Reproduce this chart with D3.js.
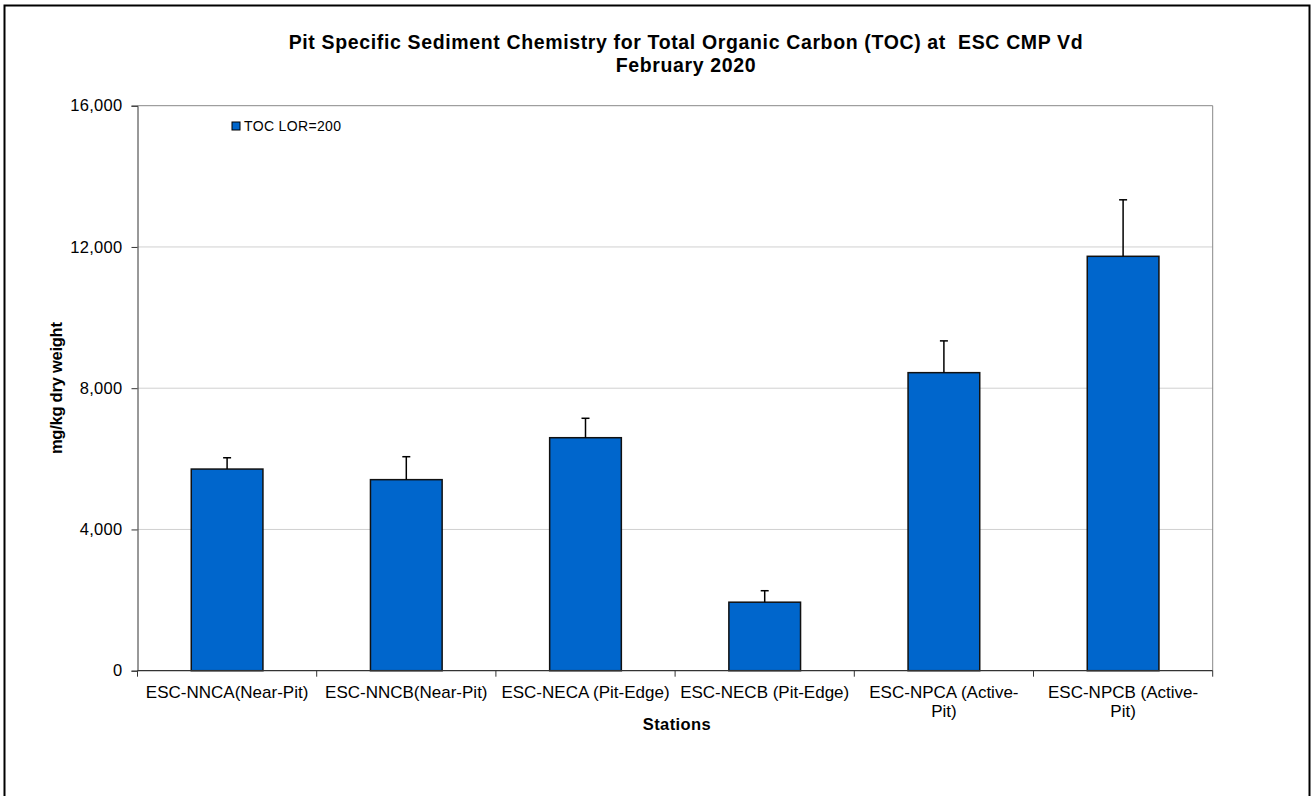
<!DOCTYPE html>
<html><head><meta charset="utf-8">
<script src="https://cdn.jsdelivr.net/npm/d3@7"></script>
<style>body{margin:0;background:#fff;} svg{display:block;font-family:"Liberation Sans",Arial,sans-serif;}</style>
</head><body>
<svg id="c" width="1314" height="796"></svg>
<script>
const categories = ["ESC-NNCA(Near-Pit)", "ESC-NNCB(Near-Pit)", "ESC-NECA (Pit-Edge)", "ESC-NECB (Pit-Edge)", "ESC-NPCA (Active-Pit)", "ESC-NPCB (Active-Pit)"];
const categoryLines = [["ESC-NNCA(Near-Pit)"], ["ESC-NNCB(Near-Pit)"], ["ESC-NECA (Pit-Edge)"], ["ESC-NECB (Pit-Edge)"], ["ESC-NPCA (Active-", "Pit)"], ["ESC-NPCB (Active-", "Pit)"]];
const tocValues = [5710, 5410, 6598, 1940, 8440, 11735];
const tocErrors = [320, 650, 550, 325, 900, 1600];
const yTicks = [0, 4000, 8000, 12000, 16000];
const seriesName = "TOC LOR=200";
const titleLines = ["Pit Specific Sediment Chemistry for Total Organic Carbon (TOC) at\u00a0 ESC CMP Vd", "February 2020"];

const FF = "Liberation Sans, Arial, sans-serif";
const svg = d3.select("#c");
function spread(sel, target){
  const n = sel.text().length;
  const w = sel.node().getComputedTextLength();
  const ls = (target - w)/(n-1);
  sel.attr("letter-spacing", ls);
  return ls;
}

svg.append("rect").attr("x",4.5).attr("y",5.5).attr("width",1305).attr("height",800)
  .attr("fill","none").attr("stroke","#000").attr("stroke-width",2);

const L=137.5, R=1212.7, T=105.7, B=670.7;
const x = d3.scaleBand().domain(categories).range([L,R]).paddingInner(0.6).paddingOuter(0.3);
const y = d3.scaleLinear().domain([0,16000]).range([B,T]);

// gridlines
svg.append("g").selectAll("line").data(yTicks.filter(d=>d>0&&d<16000)).join("line")
  .attr("x1",L).attr("x2",R).attr("y1",d=>y(d)).attr("y2",d=>y(d))
  .attr("stroke","#d0d0d0").attr("stroke-width",1);
svg.append("line").attr("x1",L).attr("x2",R).attr("y1",T).attr("y2",T).attr("stroke","#888");
svg.append("line").attr("x1",R).attr("x2",R).attr("y1",T).attr("y2",B).attr("stroke","#888");

// bars
svg.append("g").selectAll("rect").data(tocValues).join("rect")
  .attr("x",(d,i)=>x(categories[i])).attr("width",x.bandwidth())
  .attr("y",d=>y(d)).attr("height",d=>B-y(d))
  .attr("fill","#0066CC").attr("stroke","#111").attr("stroke-width",1.5);

// error bars
const eg = svg.append("g").attr("stroke","#000").attr("stroke-width",1.5);
tocValues.forEach((v,i)=>{
  const cx = x(categories[i])+x.bandwidth()/2;
  eg.append("line").attr("x1",cx).attr("x2",cx).attr("y1",y(v)).attr("y2",y(v+tocErrors[i]));
  eg.append("line").attr("x1",cx-4).attr("x2",cx+4).attr("y1",y(v+tocErrors[i])).attr("y2",y(v+tocErrors[i]));
});

// y axis
const ya = svg.append("g").attr("transform",`translate(${L},0)`)
  .call(d3.axisLeft(y).tickValues(yTicks).tickSize(6).tickPadding(9).tickFormat(d3.format(",")));
ya.attr("font-size",null).attr("font-family",null);
ya.select(".domain").attr("stroke","#333");
ya.selectAll(".tick line").attr("stroke","#333");
ya.selectAll("text").attr("font-size",16.5).attr("fill","#000").attr("font-family",FF).attr("letter-spacing",0.3);

// x axis
const xa = svg.append("g").attr("transform",`translate(0,${B})`);
xa.append("line").attr("x1",L).attr("x2",R).attr("stroke","#333").attr("stroke-width",1.2);
const bounds = categories.map(c=>x(c)-x.step()*x.paddingInner()/2).concat([R]);
xa.selectAll(".tk").data(bounds).join("line").attr("class","tk")
  .attr("x1",d=>d).attr("x2",d=>d).attr("y1",0).attr("y2",6).attr("stroke","#333");
categories.forEach((c,i)=>{
  const t = xa.append("text").attr("x",x(c)+x.bandwidth()/2).attr("y",27.5)
    .attr("text-anchor","middle").attr("font-size",17).attr("fill","#000");
  categoryLines[i].forEach((ln,j)=>t.append("tspan").attr("x",x(c)+x.bandwidth()/2).attr("dy",j?19:0).text(ln));
});

// titles
const t1 = svg.append("text").attr("x",686).attr("y",49).attr("text-anchor","middle")
  .attr("font-size",19.5).attr("font-weight","bold").text(titleLines[0]);
const ls = spread(t1, 794);
svg.append("text").attr("x",686).attr("y",72).attr("text-anchor","middle")
  .attr("font-size",19.5).attr("font-weight","bold").attr("letter-spacing",ls).text(titleLines[1]);

const st = svg.append("text").attr("x",677).attr("y",730).attr("text-anchor","middle")
  .attr("font-size",16.5).attr("font-weight","bold").text("Stations");
spread(st, 68);
const yl = svg.append("text").attr("transform",`translate(61.5,${(T+B)/2}) rotate(-90)`).attr("text-anchor","middle")
  .attr("font-size",16.5).attr("font-weight","bold").text("mg/kg dry weight");
spread(yl, 132);

// legend
svg.append("rect").attr("x",232).attr("y",122).attr("width",8).attr("height",8)
  .attr("fill","#0066CC").attr("stroke","#000").attr("stroke-width",1);
const lg = svg.append("text").attr("x",244).attr("y",130.7).attr("font-size",14).text(seriesName);
spread(lg, 97);
</script>
</body></html>
